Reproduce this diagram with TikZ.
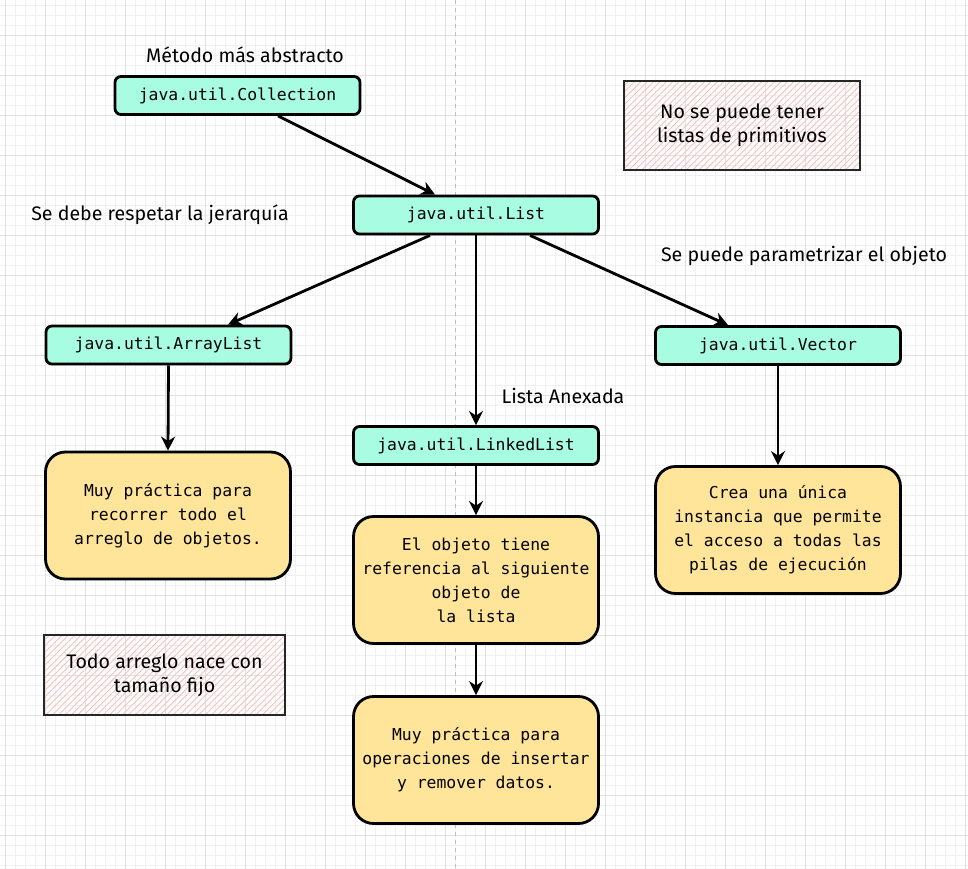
\documentclass[tikz,border=0pt]{standalone}
\usepackage{fontspec}
\setmainfont{Fira Sans}
\newfontfamily\monof{DejaVu Sans Mono}
\usetikzlibrary{arrows.meta,patterns.meta}
\definecolor{teal1}{HTML}{A8FCE2}
\definecolor{yell1}{HTML}{FFE599}
\definecolor{pinkh}{HTML}{F6C4C4}
\definecolor{gridmin}{HTML}{F0F0F0}
\definecolor{gridmaj}{HTML}{E0E0E0}
\tikzset{
  classbox/.style={draw=black, line width=2.8pt, fill=teal1, rounded corners=6pt,
    minimum width=245pt, minimum height=38pt, inner sep=0pt,
    font=\monof\fontsize{16.4}{24}\selectfont},
  descbox/.style={draw=black, line width=2.8pt, fill=yell1, rounded corners=20pt,
    minimum width=245pt, minimum height=127pt, inner sep=0pt, align=center,
    font=\monof\fontsize{16.4}{24}\selectfont},
  notebox/.style={draw=black!85, line width=1.1pt,
    pattern={Lines[angle=45,distance=4.5pt,line width=0.9pt]}, pattern color=pinkh,
    inner sep=0pt, align=center, font=\fontsize{19.6}{24}\selectfont},
  plainlabel/.style={inner sep=0pt, font=\fontsize{19.6}{24}\selectfont},
  conn/.style={line width=2.8pt, -{Stealth[length=14pt,width=14pt,inset=4.5pt]}},
}
\begin{document}
\begin{tikzpicture}[x=1pt,y=-1pt]
\useasboundingbox (0,0) rectangle (968,869);
\fill[white] (0,0) rectangle (968,869);
% grid
\foreach \x in {5,15,...,965} \draw[gridmin, line width=0.8pt] (\x,0) -- (\x,869);
\foreach \y in {5,15,...,865} \draw[gridmin, line width=0.8pt] (0,\y) -- (968,\y);
\foreach \x in {5,45,...,965} \draw[gridmaj, line width=0.9pt] (\x,0) -- (\x,869);
\foreach \y in {35,75,...,865} \draw[gridmaj, line width=0.9pt] (0,\y) -- (968,\y);
\draw[black!25, line width=0.8pt, dash pattern=on 4pt off 4pt] (455,0) -- (455,869);

% class boxes
\node[classbox] (coll) at (237.5,95.5) {java.util.Collection};
\node[classbox] (list) at (476,215) {java.util.List};
\node[classbox] (alist) at (168.5,345) {java.util.ArrayList};
\node[classbox] (vec) at (778,345.5) {java.util.Vector};
\node[classbox] (llist) at (476,445.5) {java.util.LinkedList};

% description boxes
\node[descbox] (dal) at (168,515.5) {Muy práctica para\\recorrer todo el\\arreglo de objetos.};
\node[descbox] (dll1) at (476,580) {El objeto tiene\\referencia al siguiente\\objeto de\\la lista};
\node[descbox] (dll2) at (476,760) {Muy práctica para\\operaciones de insertar\\y remover datos.};
\node[descbox] (dvec) at (778,530) {Crea una única\\instancia que permite\\el acceso a todas las\\pilas de ejecución};

% notes
\node[notebox, minimum width=236pt, minimum height=89pt] (n1) at (742,125.5) {No se puede tener\\listas de primitivos};
\node[notebox, minimum width=241pt, minimum height=80pt] (n2) at (164.5,675) {Todo arreglo nace con\\tamaño fijo};

% labels
\node[plainlabel] (l1) at (245,55) {Método más abstracto};
\node[plainlabel] (l2) at (160,215) {Se debe respetar la jerarquía};
\node[plainlabel] (l3) at (804,256) {Se puede parametrizar el objeto};
\node[plainlabel] (l4) at (563,396) {Lista Anexada};

% connectors
\draw[conn] ([xshift=40.5pt]coll.south) -- ([xshift=-41pt]list.north);
\draw[conn] ([xshift=-46pt]list.south) -- ([xshift=59.5pt]alist.north);
\draw[conn] ([xshift=54pt]list.south) -- ([xshift=-50pt]vec.north);
\draw[conn] (list.south) -- (llist.north);
\draw[conn] (alist.south) -- (dal.north);
\draw[conn] (vec.south) -- (dvec.north);
\draw[conn] (llist.south) -- (dll1.north);
\draw[conn] (dll1.south) -- (dll2.north);
\end{tikzpicture}
\end{document}
